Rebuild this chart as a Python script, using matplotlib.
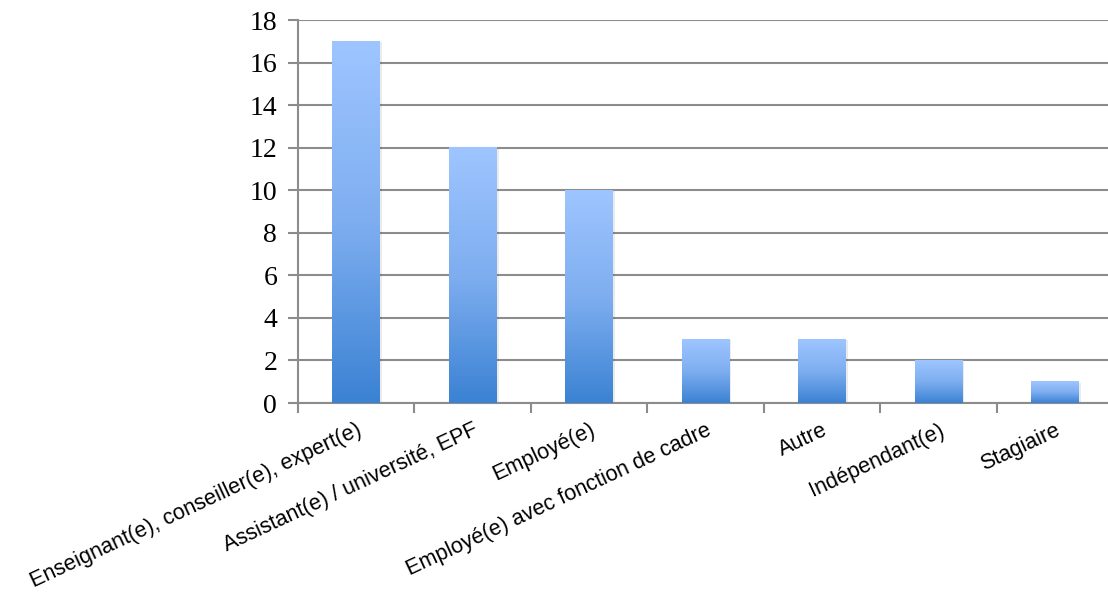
import numpy as np
import matplotlib.pyplot as plt
from matplotlib.colors import LinearSegmentedColormap

# data
categories = ["Enseignant(e), conseiller(e), expert(e)",
              "Assistant(e) / université, EPF",
              "Employé(e)",
              "Employé(e) avec fonction de cadre",
              "Autre",
              "Indépendant(e)",
              "Stagiaire"]
counts = [17, 12, 10, 3, 3, 2, 1]
yticks = list(range(0, 19, 2))

fig = plt.figure(figsize=(11.08, 5.94), dpi=100)
ax = fig.add_axes([0.269, 0.3215, 0.7356, 0.6448])

x = np.arange(len(categories))
bars = ax.bar(x, counts, width=0.41, color="none", zorder=3)

# vertical gradient, dark at the bottom, light at the top of each bar
cmap = LinearSegmentedColormap.from_list("bar", ["#3b82d3", "#7eaef0", "#9ec5ff"])
grad = np.linspace(0, 1, 256).reshape(-1, 1)
for b in bars:
    x0, w, h = b.get_x(), b.get_width(), b.get_height()
    # soft shadow
    ax.bar(x0 + w / 2 + 0.012, h, width=w + 0.01, bottom=-0.05, color="#000000",
           alpha=0.08, zorder=2)
    ax.imshow(grad, cmap=cmap, origin="lower", aspect="auto",
              extent=(x0, x0 + w, 0, h), zorder=3, interpolation="bilinear")

ax.set_xlim(-0.5, len(categories) - 0.5)
ax.set_ylim(0, 18)
ax.set_yticks(yticks)
ax.set_yticklabels([str(t) for t in yticks], family="Liberation Serif", fontsize=20)
ax.yaxis.grid(True, color="#8c8c8c", linewidth=1.5, zorder=1)

# category labels at centres, tick marks between categories
ax.set_xticks(x)
ax.set_xticklabels(categories, rotation=25, ha="right", rotation_mode="anchor",
                   family="Liberation Sans", fontsize=15.6)
ax.tick_params(axis="x", which="major", length=0, pad=12)
ax.set_xticks(np.arange(-0.5, len(categories) + 0.5, 1), minor=True)
ax.tick_params(axis="x", which="minor", length=7, width=1.5, color="#8c8c8c")
ax.tick_params(axis="y", length=7, width=1.5, color="#8c8c8c", pad=8)

for s in ["top", "right"]:
    ax.spines[s].set_visible(False)
ax.spines["left"].set_color("#8c8c8c")
ax.spines["left"].set_linewidth(1.5)
ax.spines["bottom"].set_color("#8c8c8c")
ax.spines["bottom"].set_linewidth(1.5)
ax.set_axisbelow(True)

fig.savefig("out.png", dpi=100)
